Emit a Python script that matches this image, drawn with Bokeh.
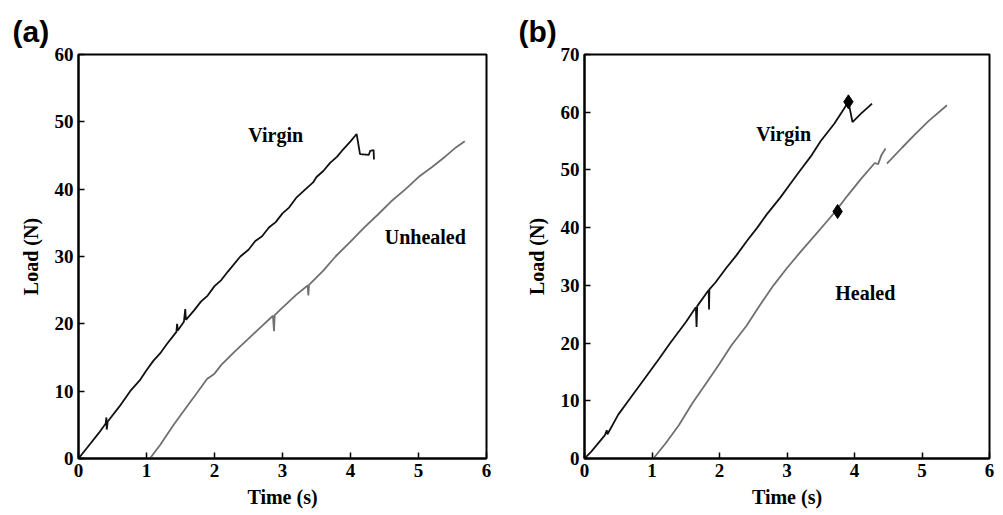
from bokeh.plotting import figure
from bokeh.layouts import row
from bokeh.models import Range1d, FixedTicker, Label
from bokeh.embed import file_html
from bokeh.resources import INLINE

# ---------------- data ----------------
x_ticks = [0, 1, 2, 3, 4, 5, 6]
ya_ticks = [0, 10, 20, 30, 40, 50, 60]
yb_ticks = [0, 10, 20, 30, 40, 50, 60, 70]

# panel (a) virgin
a_virgin_t = [0, 0.15, 0.3, 0.40, 0.41, 0.415, 0.43, 0.6, 0.76, 0.9, 1.0, 1.1, 1.2,
              1.3, 1.44, 1.45, 1.46, 1.55, 1.57, 1.58, 1.7, 1.8, 1.9, 2.0, 2.1, 2.2,
              2.38, 2.5, 2.6, 2.7, 2.8, 2.9, 3.0, 3.1, 3.2, 3.34, 3.45, 3.5, 3.6, 3.7,
              3.8, 3.9, 4.0, 4.09, 4.14, 4.27, 4.29, 4.34, 4.345]
a_virgin_load = [0, 1.9, 3.8, 5.2, 6.1, 4.3, 5.5, 7.7, 10.0, 11.6, 13.1, 14.5, 15.6,
                 17.0, 18.8, 20.0, 19.0, 20.3, 22.2, 20.6, 22.0, 23.3, 24.2, 25.6, 26.5, 27.8,
                 30.0, 31.0, 32.3, 33.0, 34.3, 35.1, 36.4, 37.3, 38.7, 40.0, 41.0, 41.8, 42.7, 43.9,
                 44.8, 46.0, 47.1, 48.2, 45.2, 45.1, 45.7, 45.8, 44.4]

# panel (a) unhealed
a_unhealed_t = [1.05, 1.2, 1.4, 1.6, 1.76, 1.89, 2.0, 2.1, 2.3, 2.5, 2.7, 2.86, 2.875,
                2.885, 3.0, 3.2, 3.37, 3.38, 3.39, 3.6, 3.78, 4.0, 4.2, 4.4, 4.6, 4.81,
                5.0, 5.2, 5.4, 5.55, 5.68]
a_unhealed_load = [0, 2.0, 5.0, 7.8, 10.0, 11.8, 12.6, 13.9, 15.9, 17.8, 19.7, 21.2, 18.9,
                   21.3, 22.4, 24.3, 25.7, 24.2, 25.8, 27.9, 30.0, 32.2, 34.3, 36.2, 38.2, 40.0,
                   41.8, 43.3, 44.9, 46.2, 47.1]

# panel (b) virgin
b_virgin_t = [0, 0.1, 0.3, 0.33, 0.34, 0.5, 0.65, 0.9, 1.1, 1.27, 1.5, 1.65, 1.66, 1.67,
              1.84, 1.845, 1.85, 1.94, 2.1, 2.25, 2.4, 2.56, 2.7, 2.9, 3.05, 3.2, 3.35,
              3.5, 3.7, 3.84, 3.91, 3.97, 4.1, 4.26]
b_virgin_load = [0, 1.2, 4.0, 4.9, 4.2, 7.6, 10.0, 14.0, 17.2, 20.0, 23.6, 26.2, 22.8, 26.4,
                 29.2, 25.8, 29.3, 30.5, 33.0, 35.2, 37.6, 40.0, 42.3, 45.2, 47.6, 50.0, 52.3,
                 55.0, 58.0, 60.5, 61.8, 58.3, 59.8, 61.5]
b_marker_t = [3.91, 3.75]
b_marker_load = [61.8, 42.8]

# panel (b) healed (two segments)
b_healed1_t = [1.02, 1.2, 1.4, 1.6, 1.8, 2.0, 2.17, 2.4, 2.6, 2.8, 3.0, 3.2, 3.4, 3.6,
               3.73, 3.9, 4.1, 4.3, 4.35, 4.4, 4.46]
b_healed1_load = [0, 2.6, 5.8, 9.6, 13.0, 16.4, 19.5, 23.0, 26.6, 30.0, 33.0, 35.8, 38.5, 41.2,
                  43.0, 45.6, 48.5, 51.2, 51.0, 52.6, 53.7]
b_healed2_t = [4.48, 4.7, 4.9, 5.1, 5.37]
b_healed2_load = [51.1, 53.8, 56.2, 58.5, 61.2]

SERIF = "Liberation Serif"
SANS = "Liberation Sans"


def style(p, yticks, panel):
    p.xaxis.ticker = FixedTicker(ticks=x_ticks)
    p.yaxis.ticker = FixedTicker(ticks=yticks)
    p.xgrid.visible = False
    p.ygrid.visible = False
    for ax in (p.xaxis[0], p.yaxis[0]):
        ax.axis_line_width = 2
        ax.axis_line_color = "black"
        ax.major_tick_in = 6
        ax.major_tick_out = 0
        ax.major_tick_line_width = 1.5
        ax.major_tick_line_color = "black"
        ax.minor_tick_line_color = None
        ax.major_label_text_font = SERIF
        ax.major_label_text_font_style = "bold"
        ax.major_label_text_font_size = "19px"
        ax.major_label_text_color = "black"
        ax.major_label_standoff = 5
        ax.axis_label_text_font = SERIF
        ax.axis_label_text_font_style = "bold"
        ax.axis_label_text_font_size = "20px"
        ax.axis_label_text_color = "black"
    p.xaxis.axis_label = "Time (s)"
    p.yaxis.axis_label = "Load (N)"
    p.xaxis.axis_label_standoff = 6
    p.yaxis.axis_label_standoff = 10
    p.outline_line_color = "black"
    p.outline_line_width = 2
    p.background_fill_color = "white"
    p.border_fill_color = "white"
    p.title.text = panel
    p.title.align = "left"
    p.title.text_font = SANS
    p.title.text_font_style = "bold"
    p.title.text_font_size = "30px"
    p.title.text_color = "black"
    p.title.offset = -66
    p.title.standoff = 13


def add_text(p, x, y, txt):
    p.add_layout(Label(x=x, y=y, text=txt, text_align="center", text_baseline="middle",
                       text_font=SERIF, text_font_style="bold", text_font_size="20px",
                       text_color="black"))


pa = figure(width=514, height=510, x_range=Range1d(0, 6), y_range=Range1d(0, 60),
            output_backend="svg", toolbar_location=None,
            min_border_left=78, min_border_right=28, min_border_top=52, min_border_bottom=50)
style(pa, ya_ticks, "(a)")
pa.line(a_virgin_t, a_virgin_load, line_color="#111111", line_width=1.8)
pa.line(a_unhealed_t, a_unhealed_load, line_color="#707070", line_width=1.8)
add_text(pa, 2.9, 48.1, "Virgin")
add_text(pa, 5.1, 32.9, "Unhealed")

pb = figure(width=481, height=510, x_range=Range1d(0, 6), y_range=Range1d(0, 70),
            output_backend="svg", toolbar_location=None,
            min_border_left=70, min_border_right=6, min_border_top=54, min_border_bottom=51)
style(pb, yb_ticks, "(b)")
pb.line(b_virgin_t, b_virgin_load, line_color="#111111", line_width=1.8)
pb.line(b_healed1_t, b_healed1_load, line_color="#707070", line_width=1.8)
pb.line(b_healed2_t, b_healed2_load, line_color="#707070", line_width=1.8)
pb.scatter(b_marker_t, b_marker_load, marker="diamond", size=14, fill_color="black",
           line_color="black")
add_text(pb, 2.95, 56.3, "Virgin")
add_text(pb, 4.16, 28.7, "Healed")

layout = row(pa, pb)
open("out.html", "w").write(file_html(layout, INLINE))
